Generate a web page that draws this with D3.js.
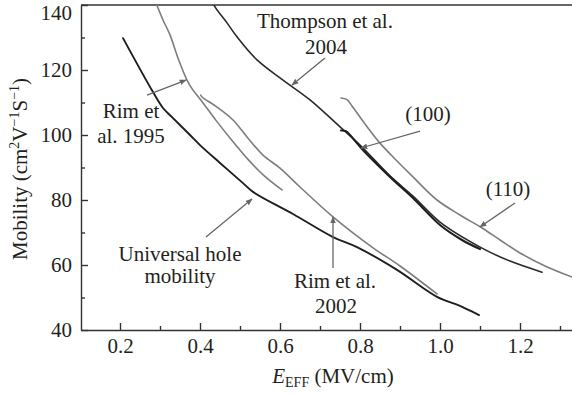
<!DOCTYPE html>
<html>
<head>
<meta charset="utf-8">
<script src="https://cdn.jsdelivr.net/npm/d3@7"></script>
<style>
html,body{margin:0;padding:0;background:#fff;}
svg{display:block;}
text{font-family:"Liberation Serif","Times New Roman",serif;fill:#231f20;}
</style>
</head>
<body>
<svg id="chart" width="572" height="394"></svg>
<script>
// ---- data (E_eff in MV/cm, mobility in cm^2/Vs) ----
const xMajorTicks = [0.2, 0.4, 0.6, 0.8, 1.0, 1.2];
const xMinorTicks = [0.3, 0.5, 0.7, 0.9, 1.1, 1.3];
const yMajorTicks = [40, 60, 80, 100, 120, 140];
const yMinorTicks = [50, 70, 90, 110, 130];

const universal = [[0.2075,129.8],[0.2825,113.2],[0.3075,108.3],[0.33,105.5],[0.375,100.0],[0.40,96.9],[0.45,91.4],[0.5075,85.2],[0.5325,82.5],[0.6325,75.7],[0.7325,68.6],[0.7925,65.5],[0.8925,58.5],[0.9925,50.2],[1.05,47.4],[1.0975,44.6]];
const rim1995 = [[0.29,140.6],[0.3075,135.4],[0.325,130.8],[0.345,123.7],[0.3675,116.9],[0.3825,113.8],[0.40,111.1],[0.44,104.5],[0.48,98.3],[0.52,92.5],[0.56,87.5],[0.605,83.1]];
const rim2002 = [[0.402,112.3],[0.405,111.7],[0.4425,108.6],[0.4825,104.6],[0.5175,99.4],[0.5575,93.8],[0.60,89.8],[0.65,84.0],[0.7325,74.8],[0.83,65.5],[0.90,59.7],[0.9925,51.1]];
const thompson = [[0.4325,140.9],[0.4375,139.4],[0.4675,134.5],[0.4925,130.2],[0.5425,123.1],[0.6075,116.9],[0.675,110.8],[0.75,102.5],[0.805,96.3],[0.875,87.4],[0.9325,81.2],[1.0,73.2],[1.105,65.2],[1.175,61.2],[1.255,57.8]];
const si100 = [[0.7525,101.4],[0.765,101.2],[0.775,100.0],[0.805,95.7],[0.875,87.1],[0.9325,80.6],[1.0,72.3],[1.055,67.7],[1.1,64.9]];
const si110 = [[0.7525,111.4],[0.7675,110.9],[0.78,108.9],[0.8125,103.4],[0.85,97.5],[0.89,92.3],[0.9325,87.1],[0.9925,80.0],[1.05,75.4],[1.105,71.4],[1.15,67.7],[1.2,63.7],[1.2625,59.7],[1.33,56.3]];

// annotation texts (anchor E, mu for each line) and arrows [from, to]
const labels = [
  {lines:["Rim et","al. 1995"], at:[[0.2275,105.2],[0.2275,97.5]]},
  {lines:["Thompson et al.","2004"], at:[[0.7125,132.9],[0.715,124.9]]},
  {lines:["(100)"], at:[[0.97,104.3]]},
  {lines:["(110)"], at:[[1.17,81.2]]},
  {lines:["Universal hole","mobility"], at:[[0.35,61.2],[0.35,54.5]]},
  {lines:["Rim et al.","2002"], at:[[0.7375,52.9],[0.74,45.2]]}
];
const arrows = [
  [[0.2675,112.3],[0.365,116.9]],
  [[0.7125,123.7],[0.63,115.4]],
  [[0.95,101.2],[0.8025,96.0]],
  [[1.1875,79.1],[1.10,71.7]],
  [[0.415,68.6],[0.53,80.3]],
  [[0.7325,59.1],[0.7325,74.8]]
];

// ---- drawing ----
const FS = 21, FSS = 14;
const svg = d3.select("#chart");
const mLeft = 81, mRight = 572, mTop = 5, mBottom = 330;
const x = d3.scaleLinear().domain([0.1025, 1.33]).range([mLeft, mRight]);
const y = d3.scaleLinear().domain([40, 140]).range([mBottom, mTop]);

const defs = svg.append("defs");
defs.append("clipPath").attr("id","plot")
  .append("rect").attr("x",mLeft).attr("y",mTop).attr("width",mRight-mLeft).attr("height",mBottom-mTop);
const mk = defs.append("marker").attr("id","ah")
  .attr("viewBox","0 0 10 10").attr("refX",9).attr("refY",5)
  .attr("markerWidth",7).attr("markerHeight",7).attr("markerUnits","userSpaceOnUse")
  .attr("orient","auto");
mk.append("path").attr("d","M0,1 L10,5 L0,9 Z").attr("fill","#666");

const axisColor = "#333";
// y axis
const yAx = svg.append("g").attr("transform",`translate(${mLeft},0)`)
  .call(d3.axisLeft(y).tickValues(yMajorTicks).tickFormat(d3.format("d")).tickSizeInner(-7).tickSizeOuter(0).tickPadding(9));
svg.append("g").attr("transform",`translate(${mLeft},0)`)
  .call(d3.axisLeft(y).tickValues(yMinorTicks).tickFormat("").tickSizeInner(-4).tickSizeOuter(0))
  .select(".domain").remove();
// x axis
svg.append("g").attr("transform",`translate(0,${mBottom})`)
  .call(d3.axisBottom(x).tickValues(xMajorTicks).tickFormat(d3.format(".1f")).tickSizeInner(-7).tickSizeOuter(0).tickPadding(8));
svg.append("g").attr("transform",`translate(0,${mBottom})`)
  .call(d3.axisBottom(x).tickValues(xMinorTicks).tickFormat("").tickSizeInner(-4).tickSizeOuter(0))
  .select(".domain").remove();
svg.selectAll(".domain, .tick line").attr("stroke",axisColor).attr("stroke-width",1.4);
svg.selectAll(".tick text").attr("font-size",FS).attr("font-family",'"Liberation Serif",serif').attr("fill","#231f20");
// top label sits just below the top edge so it is not clipped
yAx.selectAll(".tick").filter(d=>d===140).select("text").attr("dy","0.7em");
// top border
svg.append("line").attr("x1",x(0.1025)).attr("x2",x(1.33)).attr("y1",y(140)).attr("y2",y(140))
  .attr("stroke",axisColor).attr("stroke-width",1.4);

// axis titles
const yt = svg.append("text").attr("transform","translate(27,169) rotate(-90)")
  .attr("text-anchor","middle").attr("font-size",FS);
yt.append("tspan").text("Mobility (cm");
yt.append("tspan").attr("dy",-8).attr("font-size",FSS).text("2");
yt.append("tspan").attr("dy",8).text("V");
yt.append("tspan").attr("dy",-8).attr("font-size",FSS).text("\u22121");
yt.append("tspan").attr("dy",8).text("S");
yt.append("tspan").attr("dy",-8).attr("font-size",FSS).text("\u22121");
yt.append("tspan").attr("dy",8).text(")");

const xt = svg.append("text").attr("x",333).attr("y",383).attr("text-anchor","middle").attr("font-size",FS);
xt.append("tspan").attr("font-style","italic").text("E");
xt.append("tspan").attr("dy",4).attr("font-size",FSS).text("EFF");
xt.append("tspan").attr("dy",-4).text(" (MV/cm)");

// curves
const line = d3.line().x(d=>x(d[0])).y(d=>y(d[1])).curve(d3.curveCatmullRom.alpha(0.5));
const g = svg.append("g").attr("clip-path","url(#plot)");
const series = [
  {d:universal, c:"#1e1e1e", w:1.9},
  {d:rim1995, c:"#7d7d7d", w:1.6},
  {d:rim2002, c:"#7d7d7d", w:1.6},
  {d:thompson, c:"#2a2a2a", w:1.6},
  {d:si100, c:"#1e1e1e", w:2.1},
  {d:si110, c:"#7d7d7d", w:1.6}
];
series.forEach(s=>{
  g.append("path").attr("d",line(s.d)).attr("fill","none")
    .attr("stroke",s.c).attr("stroke-width",s.w).attr("stroke-linecap","round").attr("stroke-linejoin","round");
});

// arrows
arrows.forEach(a=>{
  svg.append("line").attr("x1",x(a[0][0])).attr("y1",y(a[0][1])).attr("x2",x(a[1][0])).attr("y2",y(a[1][1]))
    .attr("stroke","#666").attr("stroke-width",1.3).attr("marker-end","url(#ah)");
});

// labels
labels.forEach(l=>{
  l.lines.forEach((t,i)=>{
    svg.append("text").attr("x",x(l.at[i][0])).attr("y",y(l.at[i][1]))
      .attr("text-anchor","middle").attr("font-size",FS).text(t);
  });
});
</script>
</body>
</html>
